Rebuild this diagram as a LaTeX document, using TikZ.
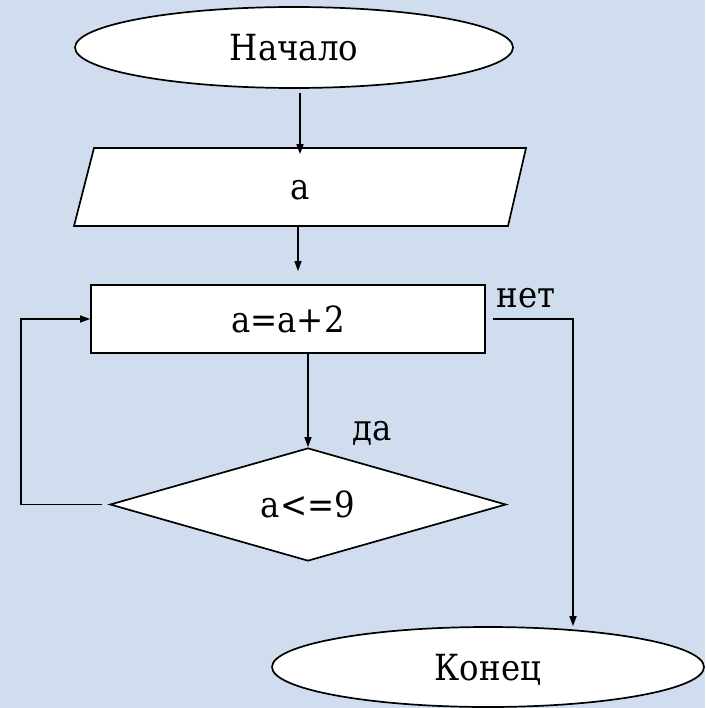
\documentclass[tikz,border=0pt]{standalone}
\usepackage{fontspec}
\IfFontExistsTF{DejaVu Serif Condensed}
  {\setmainfont{DejaVu Serif Condensed}\def\myfsz{\fontsize{36}{43}\selectfont}}
  {\setmainfont{DejaVu Serif}\def\myfsz{\fontsize{33}{40}\selectfont}}
\usetikzlibrary{shapes.geometric,arrows.meta}
\definecolor{bg}{RGB}{207,221,238}
\begin{document}
\begin{tikzpicture}[x=1pt,y=-1pt,line width=1.7pt,
  box/.style={draw=black,fill=white,inner sep=0pt,text height=26pt,text depth=0pt,font=\rmfamily\myfsz},
  term/.style={box,ellipse,minimum width=438pt,minimum height=81pt},
  arr/.style={-{Triangle[length=10pt,width=7pt]},line width=1.5pt},
  lbl/.style={anchor=base,font=\rmfamily\myfsz}]
\fill[bg] (0,0) rectangle (705,708);
\useasboundingbox (0,0) rectangle (705,708);
% start
\node[term] (start) at (294,47.5) {Начало};
% input parallelogram
\draw[fill=white] (94,148) -- (526,148) -- (508,226) -- (74,226) -- cycle;
\node[box,draw=none,fill=none,minimum width=452pt,minimum height=78pt] (inp) at (300,187) {a};
% process
\node[box,minimum width=394pt,minimum height=68pt] (proc) at (288,319) {a=a+2};
% decision
\node[box,diamond,aspect=3.5,minimum width=396pt,minimum height=113pt] (cond) at (308,504.5) {a<=9};
% end
\node[term,minimum width=432pt,minimum height=80pt] (end) at (488,667) {Конец};
% labels
\node[lbl] (no) at (526,307) {нет};
\node[lbl] (yes) at (372,440) {да};
% helper coordinates
\coordinate (loopx) at (21,0);
\coordinate (rx) at (573,0);
% connectors
\draw[arr,shorten <=4pt,shorten >=-7pt] ([xshift=6pt]start.south) -- (inp.north);
\draw[arr,shorten >=13pt] ([xshift=-2pt]inp.south) -- ([xshift=10pt]proc.north);
\draw[arr] (cond.north |- proc.south) -- (cond.north);
\draw[arr,shorten <=7pt] (cond.west) -- (cond.west -| loopx) -- (proc.west -| loopx) -- (proc.west);
\draw[arr,shorten <=7pt] (proc.east) -- (proc.east -| rx) -- (rx |- end.north);
\end{tikzpicture}
\end{document}
